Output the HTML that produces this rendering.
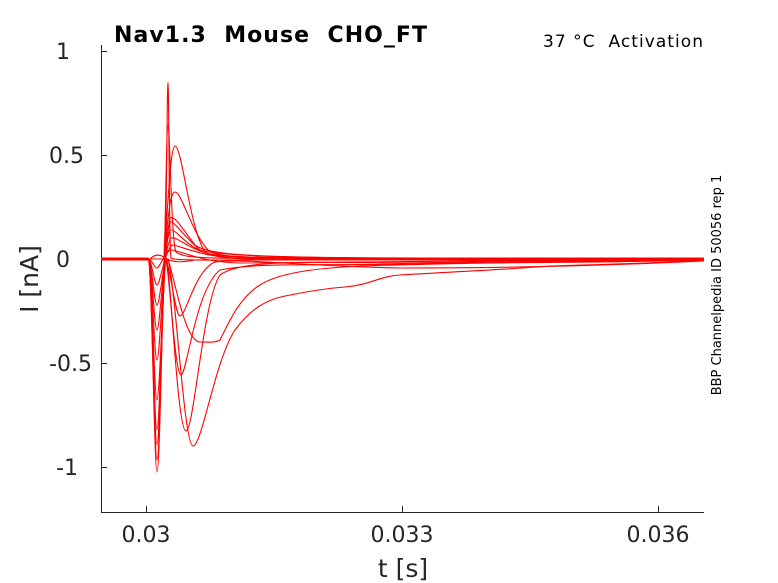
<!DOCTYPE html>
<html><head><meta charset="utf-8"><style>
html,body{margin:0;padding:0;background:#fff;}
svg{display:block;font-family:"DejaVu Sans","Liberation Sans",sans-serif;}
text{white-space:pre;}
</style></head><body>
<svg width="778" height="583" viewBox="0 0 778 583" xmlns="http://www.w3.org/2000/svg" xml:space="preserve">
<rect width="778" height="583" fill="#fff"/>
<g stroke="#262626" stroke-width="1" fill="none">
<line x1="101.5" y1="45" x2="101.5" y2="512"/>
<line x1="101" y1="512.5" x2="704" y2="512.5"/>
<line x1="101" y1="51.5" x2="107" y2="51.5"/>
<line x1="101" y1="155.5" x2="107" y2="155.5"/>
<line x1="101" y1="259.5" x2="107" y2="259.5"/>
<line x1="101" y1="363.5" x2="107" y2="363.5"/>
<line x1="101" y1="467.5" x2="107" y2="467.5"/>
<line x1="146.5" y1="512" x2="146.5" y2="506"/>
<line x1="402.5" y1="512" x2="402.5" y2="506"/>
<line x1="658.5" y1="512" x2="658.5" y2="506"/>
</g>
<g fill="#262626" font-size="22" text-anchor="end">
<text x="70" y="59">1</text>
<text x="84" y="163">0.5</text>
<text x="70" y="267">0</text>
<text x="92" y="371">-0.5</text>
<text x="78" y="475">-1</text>
</g>
<g fill="#262626" font-size="22" text-anchor="middle">
<text x="146" y="542">0.03</text>
<text x="402" y="542">0.033</text>
<text x="658" y="542">0.036</text>
<text x="403" y="577" font-size="25">t [s]</text>
<text transform="translate(38,279) rotate(-90)" font-size="25">I [nA]</text>
</g>
<text x="114" y="42" font-size="22" font-weight="bold" fill="#000" textLength="313">Nav1.3  Mouse  CHO_FT</text>
<text x="703" y="47" font-size="17" text-anchor="end" fill="#000" textLength="160">37 °C  Activation</text>
<text transform="translate(721,285) rotate(-90)" font-size="13" text-anchor="middle" fill="#000">BBP Channelpedia ID 50056 rep 1</text>
<g stroke="#ff0000" stroke-width="1.1" fill="none">
<path d="M101 259 L148 259 C152 259 154 472 157 472 C160 472 162 300 165 250 C167 200 167 82 168 82 C169 82 169 250 171 258 C180 262 200 259 704 259"/>
<path d="M101 258 L148 258 C152 258 154 460 157 460 C160 460 162 300 165 230 C166 180 167 125 168 125 C170 125 171 240 176 252 C190 262 210 257 704 259"/>
<path d="M101 259 L148 259 C152 259 154 445 157 445 C160 445 163 260 168 200 C170 170 172 146 175 146 C182 146 190 230 205 252 C220 262 260 259 704 260"/>
<path d="M101 260 L148 260 C152 260 154 430 157 430 C160 430 163 250 168 220 C170 200 172 192 175 192 C182 192 192 235 210 252 C240 262 300 258 704 259"/>
<path d="M101 259 L148 259 C152 259 154 400 157 400 C160 400 164 240 170 218 C174 215 180 225 195 245 C215 260 300 258 704 258"/>
<path d="M101 259 L148 259 C152 259 154 360 157 360 C160 360 164 240 170 222 C174 220 182 235 200 250 C230 260 400 258 704 259"/>
<path d="M101 258 L148 258 C152 258 154 330 157 330 C160 330 164 245 170 230 C176 228 186 248 210 254 C260 262 500 258 704 259"/>
<path d="M101 259 L148 259 C152 259 154 305 157 305 C160 305 165 245 171 238 C178 236 190 252 220 256 C300 260 600 258 704 258"/>
<path d="M101 259 L148 259 C152 259 154 285 157 285 C160 285 165 250 172 245 C180 245 200 258 250 259 L704 259"/>
<path d="M101 259 L148 259 C152 259 154 268 157 268 C160 268 165 250 172 250 C185 252 200 262 240 263 L704 259"/>
<path d="M101 260 L150 259 C155 254 160 254 165 258 C172 262 180 263 195 260 L704 260"/>
<path d="M101 259 L165 259 C170 262 175 316 180 316 C186 316 195 270 215 262 C240 258 300 266 400 268 C500 268 600 266 704 261"/>
<path d="M101 259 L166 259 C170 280 175 375 181 375 C187 375 195 290 220 270 C260 262 320 266 400 264 C500 262 600 263 704 260"/>
<path d="M101 259 L167 259 C172 300 178 431 186 431 C194 431 203 300 220 275 C240 260 300 262 400 263 L704 259"/>
<path d="M101 259 L168 259 C176 290 184 446 193 446 C202 446 215 360 235 330 C250 310 265 300 285 296 C305 292 330 288 345 287 C370 285 380 276 400 275 C450 272 500 270 550 266 C620 264 680 262 704 260"/>
<path d="M101 259 L168 259 C175 280 185 342 200 342 C210 342 215 343 220 340 C230 320 240 297 260 285 C280 272 320 268 360 266 C420 264 500 262 704 260"/>
</g>
</svg>
</body></html>
